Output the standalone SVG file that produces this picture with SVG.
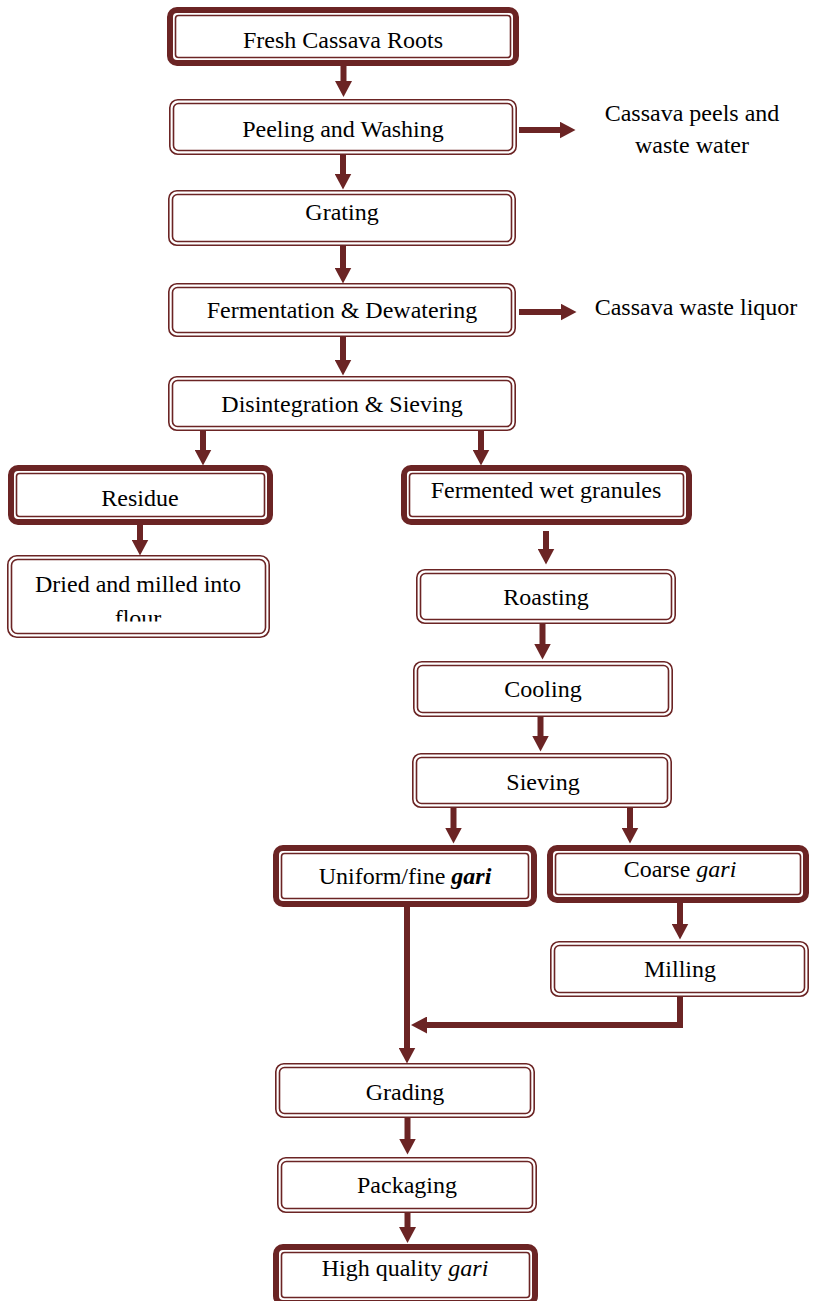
<svg xmlns="http://www.w3.org/2000/svg" width="813" height="1301" viewBox="0 0 813 1301">
<style>
.o{fill:#fff;stroke:#6b2424}
.tk{stroke-width:6}
.tn{stroke-width:1.6}
.in{fill:none;stroke:#6b2424;stroke-width:1.6}
text{font-family:"Liberation Serif","Times New Roman",serif;font-size:24px;fill:#000;text-anchor:middle}
.it{font-style:italic}
.bi{font-style:italic;font-weight:bold}
.c{fill:none;stroke:#6b2424;stroke-width:6;marker-end:url(#ah)}
</style>
<defs>
<marker id="ah" markerUnits="userSpaceOnUse" viewBox="0 0 16 17" markerWidth="16" markerHeight="17" refX="0.5" refY="8.5" orient="auto">
<path d="M0,0 L16,8.5 L0,17 z" fill="#6b2424"/>
</marker>
<clipPath id="flourclip"><rect x="0" y="0" width="813" height="621.5"/></clipPath>
</defs>
<rect width="813" height="1301" fill="#fff"/>

<g id="connectors">
<line class="c" x1="343.5" y1="66" x2="343.5" y2="81.5"/>
<line class="c" x1="519" y1="130" x2="560" y2="130"/>
<line class="c" x1="343" y1="155" x2="343" y2="174"/>
<line class="c" x1="343" y1="246" x2="343" y2="268"/>
<line class="c" x1="519" y1="312" x2="561" y2="312"/>
<line class="c" x1="343" y1="337" x2="343" y2="360"/>
<line class="c" x1="203" y1="431" x2="203" y2="450"/>
<line class="c" x1="481" y1="431" x2="481" y2="450"/>
<line class="c" x1="140" y1="525" x2="140" y2="540"/>
<line class="c" x1="546" y1="531" x2="546" y2="549"/>
<line class="c" x1="542.5" y1="624" x2="542.5" y2="644"/>
<line class="c" x1="540.5" y1="717" x2="540.5" y2="736"/>
<line class="c" x1="453.5" y1="808" x2="453.5" y2="828"/>
<line class="c" x1="630" y1="808" x2="630" y2="828"/>
<line class="c" x1="680" y1="903" x2="680" y2="924"/>
<path class="c" d="M680,997 L680,1025 L426.5,1025"/>
<line class="c" x1="407" y1="907" x2="407" y2="1048"/>
<line class="c" x1="407.5" y1="1118" x2="407.5" y2="1139"/>
<line class="c" x1="407.5" y1="1213" x2="407.5" y2="1227.5"/>
</g>

<g id="fresh">
<rect class="o tk" x="170" y="10" width="346" height="53" rx="7"/>
<rect class="in" x="175.5" y="15.5" width="335" height="42" rx="3"/>
<text x="343" y="47.5">Fresh Cassava Roots</text>
</g>
<g id="peeling">
<rect class="o tn" x="169.8" y="99.8" width="346.4" height="54.4" rx="8"/>
<rect class="in" x="173.5" y="103.5" width="339" height="47" rx="5"/>
<text x="343" y="137">Peeling and Washing</text>
</g>
<g id="peels-out">
<text x="692" y="121">Cassava peels and</text>
<text x="692" y="153">waste water</text>
</g>
<g id="grating">
<rect class="o tn" x="168.8" y="190.8" width="346.4" height="54.4" rx="8"/>
<rect class="in" x="172.5" y="194.5" width="339" height="47" rx="5"/>
<text x="342" y="220">Grating</text>
</g>
<g id="fermentation">
<rect class="o tn" x="168.8" y="283.8" width="346.4" height="52.4" rx="8"/>
<rect class="in" x="172.5" y="287.5" width="339" height="45" rx="5"/>
<text x="342" y="318">Fermentation &amp; Dewatering</text>
</g>
<g id="liquor-out">
<text x="696" y="315">Cassava waste liquor</text>
</g>
<g id="disintegration">
<rect class="o tn" x="168.8" y="376.8" width="346.4" height="53.4" rx="8"/>
<rect class="in" x="172.5" y="380.5" width="339" height="46" rx="5"/>
<text x="342" y="412">Disintegration &amp; Sieving</text>
</g>
<g id="residue">
<rect class="o tk" x="11" y="468" width="259" height="54" rx="7"/>
<rect class="in" x="16.5" y="473.5" width="248" height="43" rx="3"/>
<text x="140" y="506">Residue</text>
</g>
<g id="dried">
<rect class="o tn" x="7.8" y="555.8" width="261.4" height="81.4" rx="9"/>
<rect class="in" x="11.5" y="559.5" width="254" height="74" rx="6"/>
<text x="138" y="592">Dried and milled into</text>
<text x="138" y="626" clip-path="url(#flourclip)">flour</text>
</g>
<g id="fermented">
<rect class="o tk" x="404" y="468" width="285" height="54" rx="7"/>
<rect class="in" x="409.5" y="473.5" width="274" height="43" rx="3"/>
<text x="546" y="498">Fermented wet granules</text>
</g>
<g id="roasting">
<rect class="o tn" x="416.8" y="569.8" width="258.4" height="53.4" rx="8"/>
<rect class="in" x="420.5" y="573.5" width="251" height="46" rx="5"/>
<text x="546" y="605">Roasting</text>
</g>
<g id="cooling">
<rect class="o tn" x="413.8" y="661.8" width="258.4" height="54.4" rx="8"/>
<rect class="in" x="417.5" y="665.5" width="251" height="47" rx="5"/>
<text x="543" y="697">Cooling</text>
</g>
<g id="sieving">
<rect class="o tn" x="412.8" y="753.8" width="258.4" height="53.4" rx="8"/>
<rect class="in" x="416.5" y="757.5" width="251" height="46" rx="5"/>
<text x="543" y="790">Sieving</text>
</g>
<g id="uniform">
<rect class="o tk" x="276" y="848" width="258" height="56" rx="7"/>
<rect class="in" x="281.5" y="853.5" width="247" height="45" rx="3"/>
<text x="405" y="884">Uniform/fine <tspan class="bi">gari</tspan></text>
</g>
<g id="coarse">
<rect class="o tk" x="550" y="848" width="256" height="52" rx="7"/>
<rect class="in" x="555.5" y="853.5" width="245" height="41" rx="3"/>
<text x="680" y="877">Coarse <tspan class="it">gari</tspan></text>
</g>
<g id="milling">
<rect class="o tn" x="550.8" y="941.8" width="257.4" height="54.4" rx="8"/>
<rect class="in" x="554.5" y="945.5" width="250" height="47" rx="5"/>
<text x="680" y="977">Milling</text>
</g>
<g id="grading">
<rect class="o tn" x="275.8" y="1063.8" width="258.4" height="53.4" rx="8"/>
<rect class="in" x="279.5" y="1067.5" width="251" height="46" rx="5"/>
<text x="405" y="1100">Grading</text>
</g>
<g id="packaging">
<rect class="o tn" x="277.8" y="1157.8" width="258.4" height="54.4" rx="8"/>
<rect class="in" x="281.5" y="1161.5" width="251" height="47" rx="5"/>
<text x="407" y="1193">Packaging</text>
</g>
<g id="high-quality">
<rect class="o tk" x="276" y="1247" width="259" height="56" rx="7"/>
<rect class="in" x="281.5" y="1252.5" width="248" height="45" rx="3"/>
<text x="405" y="1276">High quality <tspan class="it">gari</tspan></text>
</g>
</svg>
